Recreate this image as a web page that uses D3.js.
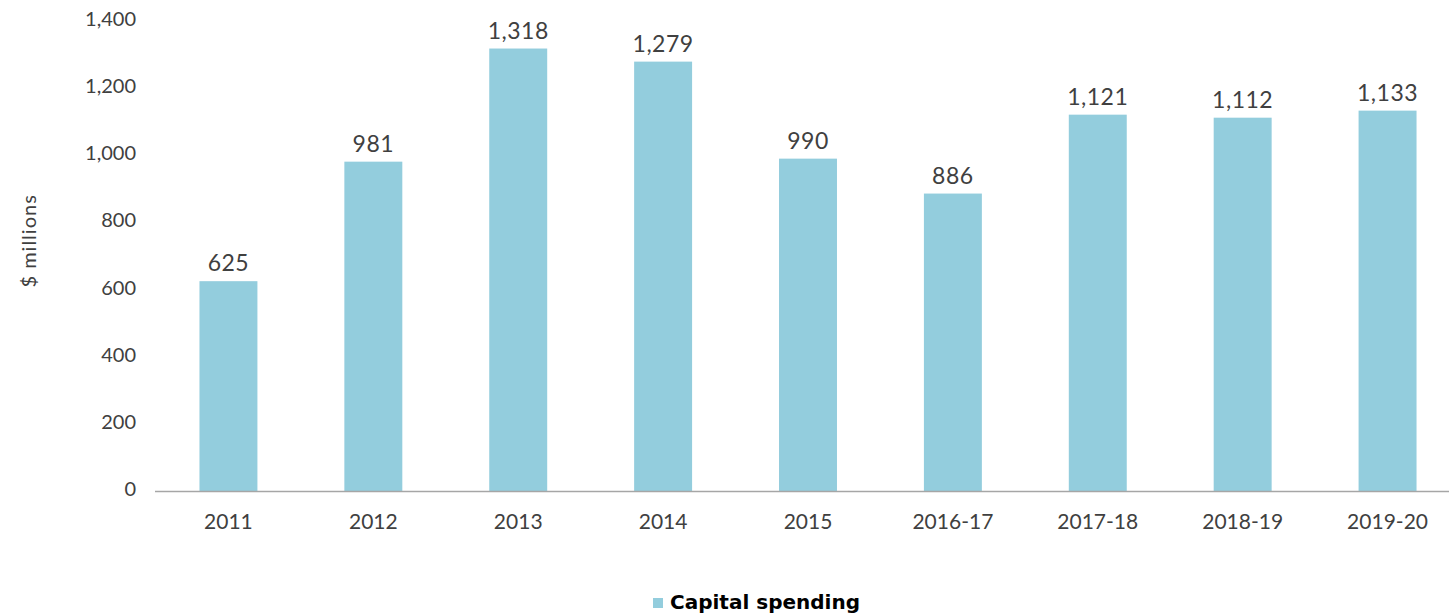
<!DOCTYPE html>
<html>
<head>
<meta charset="utf-8">
<script src="https://cdn.jsdelivr.net/npm/d3@7"></script>
<style>
  html, body { margin: 0; padding: 0; background: #fff; }
  svg text { font-family: "Lato", "Open Sans", sans-serif; }
</style>
</head>
<body>
<div id="chart"></div>
<script>
// data
const categories = ['2011', '2012', '2013', '2014', '2015', '2016-17', '2017-18', '2018-19', '2019-20'];
const capitalSpending = [625, 981, 1318, 1279, 990, 886, 1121, 1112, 1133];
const yTicks = [0, 200, 400, 600, 800, 1000, 1200, 1400];
const seriesName = 'Capital spending';

const width = 1449;
const height = 615;
const barColor = '#93cddd';
const textColor = '#404040';

const svg = d3.select('#chart')
  .append('svg')
  .attr('width', width)
  .attr('height', height);

// Scales
const x = d3.scaleBand()
  .domain(categories)
  .range([156, 1460])
  .paddingInner(0.6)
  .paddingOuter(0.3);

const y = d3.scaleLinear()
  .domain([0, 1400])
  .range([491, 21]);

const fmt = d3.format(',');

// Y tick labels
svg.append('g')
  .selectAll('text')
  .data(yTicks)
  .enter()
  .append('text')
  .attr('x', 136)
  .attr('y', d => y(d))
  .attr('text-anchor', 'end')
  .attr('dominant-baseline', 'middle')
  .attr('font-size', '20px')
  .attr('fill', textColor)
  .text(d => fmt(d));

// Y axis title
svg.append('text')
  .attr('transform', `translate(31, ${y(745)}) rotate(-90)`)
  .attr('text-anchor', 'middle')
  .attr('dominant-baseline', 'middle')
  .attr('font-size', '20px')
  .attr('letter-spacing', '1px')
  .attr('fill', textColor)
  .text('$ millions');

// Bars
svg.append('g')
  .selectAll('rect')
  .data(categories)
  .enter()
  .append('rect')
  .attr('x', d => x(d))
  .attr('y', (d, i) => y(capitalSpending[i]))
  .attr('width', x.bandwidth())
  .attr('height', (d, i) => y(0) - y(capitalSpending[i]))
  .attr('fill', barColor);

// Value labels
svg.append('g')
  .selectAll('text')
  .data(categories)
  .enter()
  .append('text')
  .attr('x', d => x(d) + x.bandwidth() / 2)
  .attr('y', (d, i) => y(capitalSpending[i]) - 10)
  .attr('text-anchor', 'middle')
  .attr('font-size', '23px')
  .attr('letter-spacing', '0.5px')
  .attr('fill', textColor)
  .text((d, i) => fmt(capitalSpending[i]));

// X axis line
svg.append('line')
  .attr('x1', 155)
  .attr('x2', width)
  .attr('y1', y(0) + 0.5)
  .attr('y2', y(0) + 0.5)
  .attr('stroke', '#a6a6a6')
  .attr('stroke-width', 1.5);

// X tick labels
svg.append('g')
  .selectAll('text')
  .data(categories)
  .enter()
  .append('text')
  .attr('x', d => x(d) + x.bandwidth() / 2)
  .attr('y', 524)
  .attr('text-anchor', 'middle')
  .attr('dominant-baseline', 'middle')
  .attr('font-size', '21px')
  .attr('fill', textColor)
  .text(d => d);

// Legend
const legend = svg.append('g').attr('transform', 'translate(653, 603)');
legend.append('rect')
  .attr('x', 0)
  .attr('y', -5)
  .attr('width', 10)
  .attr('height', 10)
  .attr('fill', barColor);
legend.append('text')
  .attr('x', 17)
  .attr('y', 0)
  .attr('dominant-baseline', 'middle')
  .style('font-family', '"DejaVu Sans", sans-serif')
  .attr('font-size', '20px')
  .attr('font-weight', 'bold')
  .attr('fill', '#000')
  .text(seriesName);
</script>
</body>
</html>
